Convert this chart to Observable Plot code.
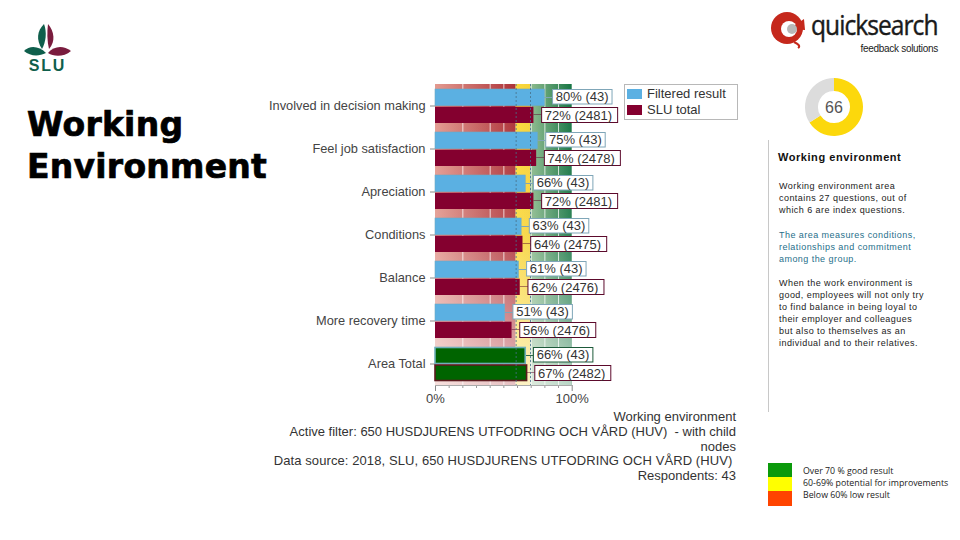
<!DOCTYPE html>
<html><head><meta charset="utf-8">
<script src="https://cdn.jsdelivr.net/npm/d3@7"></script>
<script src="https://cdn.jsdelivr.net/npm/@observablehq/plot@0.6"></script>
<style>
html,body{margin:0;padding:0;background:#fff;overflow:hidden}
#page{position:relative;width:960px;height:540px;font-family:"Liberation Sans",Arial,sans-serif}
#chart{position:absolute;left:0;top:0}
.abs{position:absolute;white-space:nowrap}
#title{left:27px;top:104px;font:bold 33px/42px "DejaVu Sans",sans-serif;color:#000;letter-spacing:.25px;-webkit-text-stroke:.7px #000}
#footer{right:224px;top:410px;text-align:right;font-size:13px;line-height:14.75px;color:#333}
#legend{left:624px;top:84px;width:112px;height:34px;border:1px solid #b8b8b8;background:#fff;font-size:13px;color:#333}
#legend span{position:absolute;left:2px;width:15px;height:10px}
#legend div{position:absolute;left:22px}
#side{left:778px;top:0;font-size:9px;line-height:12px;letter-spacing:.45px;color:#222}
#side p{position:absolute;margin:0;left:1px}
#side h4{position:absolute;margin:0;top:151px;font-size:11px;line-height:13px;letter-spacing:.55px;color:#111}
#rule{left:768px;top:140px;width:1px;height:272px;background:#c8c8c8}
.sw{position:absolute;left:768px;width:24px}
.key{position:absolute;left:803px;font:8.8px/12px "Open Sans",sans-serif;color:#222;white-space:nowrap}
#qs{left:811px;top:10.5px;font:27px/27px "Open Sans",sans-serif;color:#1a1a1a;letter-spacing:-1.05px;transform:scaleX(.91);transform-origin:left;-webkit-text-stroke:.4px #1a1a1a}
#fb{right:22px;top:42.5px;font:10px/12px "Liberation Sans",sans-serif;color:#222;letter-spacing:-.3px}
</style></head><body>
<div id="page">
<div id="chart"></div>
<div class="abs" id="title">Working<br>Environment</div>
<div class="abs" id="footer">Working environment<br>Active filter: 650 HUSDJURENS UTFODRING OCH VÅRD (HUV)&nbsp; - with child<br>nodes<br><span style="letter-spacing:.09px">Data source: 2018, SLU, 650 HUSDJURENS UTFODRING OCH VÅRD (HUV)</span>&nbsp;<br>Respondents: 43</div>
<div class="abs" id="legend"><span style="top:4px;background:#5bb0e2"></span><div style="top:1px">Filtered result</div><span style="top:20px;background:#84002f"></span><div style="top:17px">SLU total</div></div>
<div class="abs" id="rule"></div>
<div class="abs" id="side">
<h4>Working environment</h4>
<p style="top:180px">Working environment area<br>contains 27 questions, out of<br>which 6 are index questions.</p>
<p style="top:229px;color:#1f6f8b">The area measures conditions,<br>relationships and commitment<br>among the group.</p>
<p style="top:277px">When the work environment is<br>good, employees will not only try<br>to find balance in being loyal to<br>their employer and colleagues<br>but also to themselves as an<br>individual and to their relatives.</p>
</div>
<div class="sw" style="top:463px;height:14px;background:#0b9a0b"></div>
<div class="sw" style="top:477px;height:14px;background:#ffff00"></div>
<div class="sw" style="top:491px;height:15px;background:#ff4400"></div>
<div class="key" style="top:465px">Over 70 % good result</div>
<div class="key" style="top:477px">60-69% potential for improvements</div>
<div class="key" style="top:489px">Below 60% low result</div>
<svg class="abs" style="left:20px;top:20px" width="56" height="56" viewBox="0 0 56 56">
<path d="M24 4C17 11 16 20 22 29C26 22 27 12 24 4Z" fill="#0f5f4c"/>
<path d="M28 4C34 11 36 21 29 29C27 21 27 12 28 4Z" fill="#7a1c3e"/>
<path d="M4 31C10 25 19 26 26 33C18 37 10 36 4 31Z" fill="#0f5f4c"/>
<path d="M28 33C34 26 43 25 51 31C44 37 34 37 28 33Z" fill="#7a1c3e"/>
<text x="27.5" y="51" text-anchor="middle" font-family="Liberation Sans" font-weight="bold" font-size="16" letter-spacing="1.8" fill="#0f5f4c">SLU</text>
</svg>
<svg class="abs" style="left:768px;top:10px" width="40" height="40" viewBox="0 0 40 40">
<circle cx="19" cy="18" r="16" fill="#c5281c"/>
<circle cx="21" cy="19" r="8" fill="#fff"/>
<path d="M21 19L36 9L37 20Z" fill="#c5281c"/>
<circle cx="24" cy="19" r="5" fill="#b8b8b8"/>
<path d="M26 32C30 34 33 36 30 38" fill="none" stroke="#c5281c" stroke-width="2"/>
</svg>
<div class="abs" id="qs">quicksearch</div>
<div class="abs" id="fb">feedback solutions</div>
<div class="abs" id="donut" style="left:800px;top:73px"></div>
</div>
<script>
const categories = ["Involved in decision making","Feel job satisfaction","Apreciation","Conditions","Balance","More recovery time","Area Total"];
const filteredValues = [80,75,66,63,61,51,66];
const filteredCounts = [43,43,43,43,43,43,43];
const totalValues = [72,74,72,64,62,56,67];
const totalCounts = [2481,2478,2481,2475,2476,2476,2482];
const redZone = [{from:0,to:59}];
const yellowZone = [{from:59,to:69.5}];
const greenZone = [{from:69.5,to:100}];
const gridValues = [20,40,50,70,80,90];
const minorTicks = [10,20,30,40,50,60,70,80,90];
const guideValues = [59,69.5];
const indexScore = 66;

const filtered = categories.map((c,i)=>({c,v:filteredValues[i],n:filteredCounts[i]}));
const total = categories.map((c,i)=>({c,v:totalValues[i],n:totalCounts[i]}));
const label = d=>`${d.v}% (${d.n})`;
const AREA = "Area Total";

function gradients(){
  const defs = d3.create("svg:defs");
  const add = (id,stops,vertical)=>{
    const g = defs.append("linearGradient").attr("id",id);
    if(vertical) g.attr("x1",0).attr("x2",0).attr("y1",0).attr("y2",1);
    stops.forEach(([o,c,a])=>g.append("stop").attr("offset",o).attr("stop-color",c).attr("stop-opacity",a??1));
  };
  add("gRed",[[0,"#e39a90"],[1,"#ad3238"]]);
  add("gYellow",[[0,"#fbd93c"],[1,"#f5d23a"]]);
  add("gGreen",[[0,"#8fbc8f"],[1,"#177544"]]);
  add("gFade",[[0,"#fff",0],[.5,"#fff",.1],[.75,"#fff",.38],[1,"#fff",.7]],true);
  return defs.node();
}

const chart = Plot.plot({
  width:960,height:540,
  marginLeft:435,marginRight:388.3,marginTop:84,marginBottom:155,
  style:{fontFamily:"Liberation Sans, Arial, sans-serif",background:"transparent",overflow:"visible"},
  x:{domain:[0,100]},
  y:{domain:categories,padding:0},
  marks:[
    gradients,
    Plot.rect(redZone,{x1:"from",x2:"to",fill:"url(#gRed)"}),
    Plot.rect(yellowZone,{x1:"from",x2:"to",fill:"url(#gYellow)"}),
    Plot.rect(greenZone,{x1:"from",x2:"to",fill:"url(#gGreen)"}),
    Plot.ruleX(gridValues,{stroke:"#fff",strokeOpacity:.75,strokeWidth:1}),
    Plot.rect([{from:0,to:100}],{x1:"from",x2:"to",fill:"url(#gFade)"}),
    Plot.axisY({tickSize:5,tickPadding:5,fontSize:12.8,label:null,color:"#444",stroke:"#888"}),
    Plot.axisX({ticks:[0,100],tickFormat:d=>d+"%",fontSize:13,tickSize:6,tickPadding:2,label:null,color:"#444",stroke:"#888"}),
    Plot.axisX({ticks:minorTicks,tickFormat:null,text:null,tickSize:3,label:null,stroke:"#999"}),
    Plot.frame({anchor:"bottom",stroke:"#aaa"}),

    // leaders
    Plot.barX(filtered,{x1:"v",x2:d=>d.v+6,y:"c",insetTop:13,insetBottom:29,fill:d=>d.c===AREA?"#2f6a4a":"#7fa6b8"}),
    Plot.barX(total,{x1:"v",x2:d=>d.v+6,y:"c",insetTop:30.5,insetBottom:12,fill:"#5c0a2c"}),

    // bars
    Plot.barX(filtered.filter(d=>d.c!==AREA),{x:"v",y:"c",insetTop:5,insetBottom:21.3,fill:"#5bb0e2",stroke:"#6fa8c4",strokeWidth:.6}),
    Plot.barX(total.filter(d=>d.c!==AREA),{x:"v",y:"c",insetTop:22.7,insetBottom:4,fill:"#84002f"}),
    Plot.barX(filtered.filter(d=>d.c===AREA),{x:"v",y:"c",insetTop:5.5,insetBottom:21.5,fill:"#006400",stroke:"#6fb0bb",strokeWidth:1.6}),
    Plot.barX(total.filter(d=>d.c===AREA),{x:"v",y:"c",insetTop:23,insetBottom:4.5,fill:"#006400",stroke:"#5c1a1e",strokeWidth:1.6}),

    // guides
    Plot.ruleX(guideValues,{stroke:"#47708a",strokeOpacity:.8,strokeWidth:1,strokeDasharray:"2,2"}),

    // value boxes
    Plot.barX(filtered,{x1:d=>d.v+6,x2:d=>d.v+6+43.5,y:"c",insetTop:5.5,insetBottom:23,fill:"#fff",stroke:d=>d.c===AREA?"#1d5a3a":"#7fa6b8",strokeWidth:1}),
    Plot.barX(total,{x1:d=>d.v+6,x2:d=>d.v+6+55.6,y:"c",insetTop:23.5,insetBottom:4.5,fill:"#fff",stroke:"#5c0a2c",strokeWidth:1}),
    Plot.text(filtered,{x:d=>d.v+8,y:"c",dy:-9,text:label,textAnchor:"start",fontSize:13,fill:"#333"}),
    Plot.text(total,{x:d=>d.v+8,y:"c",dy:9.5,text:label,textAnchor:"start",fontSize:13,fill:"#333"})
  ],
  color:{type:"identity"}
});
document.getElementById("chart").append(chart);

// index donut
const ds = d3.create("svg").attr("width",68).attr("height",68).attr("viewBox","-34 -34 68 68");
const arc = d3.arc().innerRadius(16).outerRadius(29);
const pie = d3.pie().sort(null)([indexScore,100-indexScore]);
ds.selectAll("path").data(pie).join("path").attr("d",arc).attr("fill",(d,i)=>["#fcd80c","#dcdcdc"][i]);
ds.append("text").attr("text-anchor","middle").attr("y",5.5).attr("font-size",16).attr("font-family","Liberation Sans").attr("fill","#555").text(indexScore);
document.getElementById("donut").append(ds.node());
</script>
</body></html>
